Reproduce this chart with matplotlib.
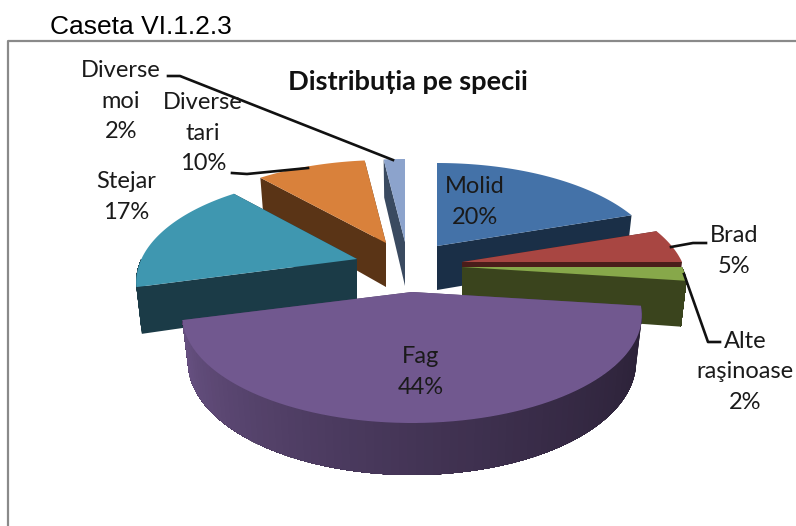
import numpy as np
import matplotlib
matplotlib.use('Agg')
import matplotlib.pyplot as plt

# drawn in the order back to front, shares are used for the angles
species = ['Molid', 'Brad', 'Alte\nraşinoase', 'Fag', 'Stejar', 'Diverse\ntari', 'Diverse\nmoi']
shares = [20, 5, 2, 44, 17, 10, 2]
top_colors = ['#4472a8', '#a84642', '#87a84a', '#71588f', '#3f97b0', '#d9813b', '#8ca3cc']
wall_colors = ['#1a2f47', '#4a1d1a', '#3a441d', '#4a3a5e', '#1b3b47', '#5a3416', '#3a4a60']
apex_x = [437, 462, 462, 412, 357, 386, 405]
apex_y = [246, 262, 267, 292, 259, 243, 242]
width_scale = [1, 1, 1, 1.02, 0.98, 1, 1]
draw_order = [6, 5, 0, 1, 2, 4, 3]
label_x = [475, 734, 745, 421, 126, 203, 121]
label_y = [202, 251, 372, 372, 197, 133, 101]

fig = plt.figure(figsize=(7.96, 5.26), dpi=100)
ax = fig.add_axes([0, 0, 1, 1])
ax.set_xlim(0, 796)
ax.set_ylim(526, 0)
ax.axis('off')


def rimPoint(theta, cx, cy, k):
    c = np.cos(theta)
    s = np.sin(theta)
    return cx + k * (220 - 50 * c) * s, cy - (107 - 24 * c) * c


def depthAt(theta):
    return 45 - 7 * np.cos(theta)


def lowerPoint(theta, cx, cy, k):
    x, y = rimPoint(theta, cx, cy, k)
    return cx + (x - cx) * 0.975, y + depthAt(theta)


def cutFace(theta, cx, cy, k, color):
    x, y = rimPoint(theta, cx, cy, k)
    xb, yb = lowerPoint(theta, cx, cy, k)
    ax.fill([cx, x, xb, cx], [cy, y, yb, cy + 44], color=color, lw=0)


def mixColor(a, b, t):
    ca = np.array(matplotlib.colors.to_rgb(a))
    cb = np.array(matplotlib.colors.to_rgb(b))
    return ca + (cb - ca) * t


ends = np.cumsum(shares) / 100 * 2 * np.pi
starts = ends - np.array(shares) / 100 * 2 * np.pi

for i in draw_order:
    t0, t1 = starts[i], ends[i]
    cx, cy = apex_x[i], apex_y[i]
    k = width_scale[i]
    cutFace(t0, cx, cy, k, wall_colors[i])
    cutFace(t1, cx, cy, k, wall_colors[i])
    # outer wall, only the front half can be seen
    a0 = max(t0, np.pi / 2)
    a1 = min(t1, 3 * np.pi / 2)
    if a1 > a0:
        steps = np.linspace(a0, a1, 90)
        # each piece runs on to the end so the next one lies over it, no seams
        for j in range(len(steps) - 1):
            p = np.linspace(steps[j], a1, 90 - j)
            x1, y1 = rimPoint(p, cx, cy, k)
            x2, y2 = lowerPoint(p, cx, cy, k)
            if species[i] == 'Fag':
                col = mixColor('#2b2137', '#6a5385', ((p[0] - a0) / (a1 - a0)) ** 1.4)
            else:
                col = wall_colors[i]
            ax.fill(np.r_[x1, x2[::-1]], np.r_[y1, y2[::-1]], color=col, lw=0)
    th = np.linspace(t0, t1, 80)
    x, y = rimPoint(th, cx, cy, k)
    ax.fill(np.r_[cx, x], np.r_[cy, y], color=top_colors[i], lw=0)

# leader lines
ax.plot([168, 180, 393], [76, 76, 160], color='#111111', lw=1.9)
ax.plot([232, 247, 308], [173, 174, 168], color='#111111', lw=1.9)
ax.plot([671, 693, 706], [247, 243, 243], color='#111111', lw=1.9)
ax.plot([684, 708, 720], [274, 342, 342], color='#111111', lw=1.9)

for i in range(len(species)):
    ax.text(label_x[i], label_y[i], '%s\n%d%%' % (species[i], shares[i]), family='Lato',
            fontsize=17, color='#1a1a1a', ha='center', va='center', linespacing=1.55)

ax.text(408, 82, 'Distribuția pe specii', family='Lato', fontsize=19.6, fontweight='bold',
        color='#111111', ha='center', va='center')
ax.text(50, 27, 'Caseta VI.1.2.3', family='Liberation Sans', fontsize=19,
        color='black', ha='left', va='center')

# chart frame, only the top and left sides are in the picture
ax.plot([8, 8, 796], [526, 41, 41], color='#8a8a8a', lw=1.6)

fig.savefig('out.png', dpi=100)
